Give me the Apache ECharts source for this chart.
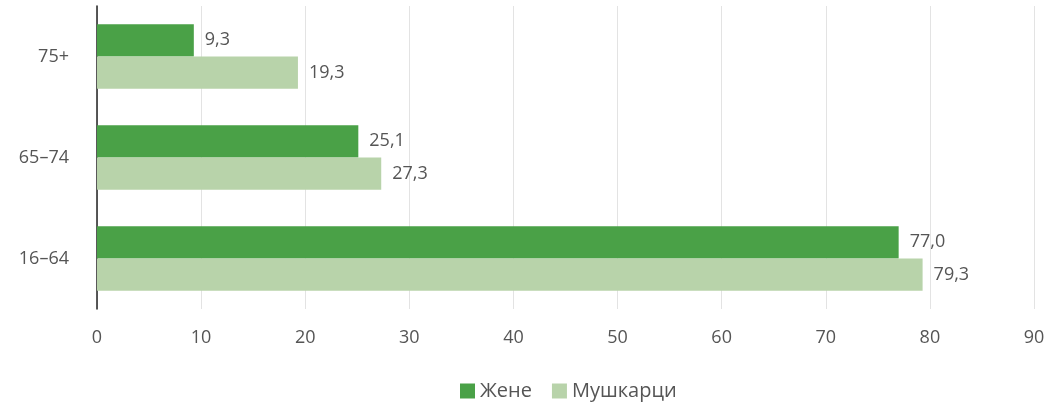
<!DOCTYPE html>
<html>
<head>
<meta charset="utf-8">
<script src="https://cdn.jsdelivr.net/npm/echarts@6/dist/echarts.min.js"></script>
<style>
  html, body { margin: 0; padding: 0; background: #fff; }
  #main { width: 1051px; height: 403px; }
</style>
</head>
<body>
<div id="main"></div>
<script>
var categories = ['16–64', '65–74', '75+'];
var zene = [77.0, 25.1, 9.3];
var muskarci = [79.3, 27.3, 19.3];

var chart = echarts.init(document.getElementById('main'));

var fontFam = '"Open Sans", "Noto Sans", sans-serif';

function fmt(p) {
    return p.value.toFixed(1).replace('.', ',');
}

var option = {
    animation: false,
    textStyle: { fontFamily: fontFam },
    grid: { left: 97, right: 17, top: 6, bottom: 94 },
    legend: {
        bottom: -3,
        left: 455,
        icon: 'rect',
        itemWidth: 15,
        itemHeight: 15,
        itemGap: 20,
        textStyle: { fontSize: 20, color: '#555', fontFamily: fontFam },
        data: ['Жене', 'Мушкарци']
    },
    xAxis: {
        type: 'value',
        min: 0,
        max: 90,
        interval: 10,
        axisLine: { show: false },
        axisTick: { show: false },
        axisLabel: { fontSize: 18, color: '#555', margin: 20 },
        splitLine: { lineStyle: { color: '#e3e3e3', width: 1 } }
    },
    yAxis: {
        type: 'category',
        data: categories,
        axisLine: { show: true, lineStyle: { color: '#222', width: 1.5 } },
        axisTick: { show: false },
        axisLabel: { fontSize: 18, color: '#555', margin: 28 }
    },
    series: [
        {
            name: 'Жене',
            type: 'bar',
            data: zene,
            barGap: '0%',
            barCategoryGap: '36%',
            itemStyle: { color: '#4aa147' },
            label: { show: true, position: 'right', distance: 11, fontSize: 18, color: '#555', formatter: fmt }
        },
        {
            name: 'Мушкарци',
            type: 'bar',
            data: muskarci,
            barGap: '0%',
            barCategoryGap: '36%',
            itemStyle: { color: '#b8d3aa' },
            label: { show: true, position: 'right', distance: 11, fontSize: 18, color: '#555', formatter: fmt }
        }
    ]
};

chart.setOption(option);
</script>
</body>
</html>
